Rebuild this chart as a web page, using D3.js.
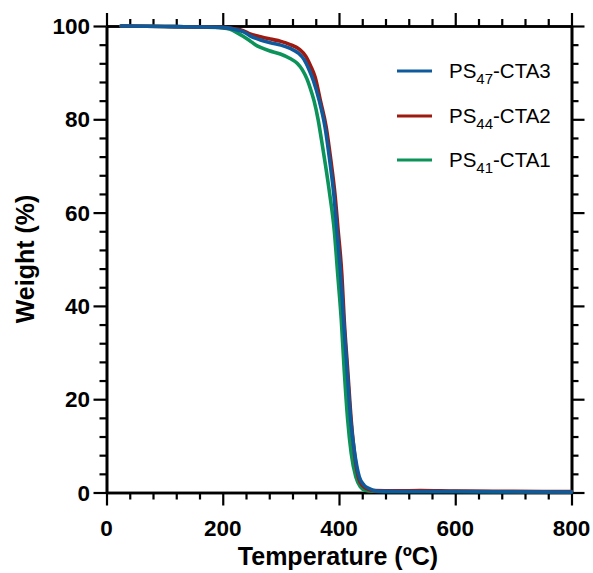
<!DOCTYPE html>
<html>
<head>
<meta charset="utf-8">
<script src="https://cdn.jsdelivr.net/npm/d3@7"></script>
<style>
  html, body { margin: 0; padding: 0; background: #fff; }
  svg { display: block; }
</style>
</head>
<body>
<svg id="chart" width="593" height="573"></svg>
<script>
// TGA curves: temperature (ºC) and remaining weight (%) per sample
const tempCTA3 = [25, 100, 150, 200, 220, 235, 247, 265, 282, 300, 316, 330, 340, 348, 356, 366, 376, 384, 391, 396, 403, 408, 414, 420, 427, 435, 443, 451, 465, 500, 600, 700, 800];
const weightCTA3 = [100, 99.9, 99.8, 99.7, 99.3, 98.8, 97.9, 97.0, 96.4, 95.9, 95.2, 94.2, 92.8, 90.8, 88.3, 84.0, 78.3, 71.2, 64.0, 56.9, 46.5, 36.9, 26.2, 15.8, 8.4, 3.3, 1.6, 0.9, 0.3, 0.2, 0.2, 0.15, 0.1];

const tempCTA2 = [25, 100, 150, 200, 220, 235, 247, 265, 282, 300, 316, 332, 343, 351, 359, 368, 378, 386, 393, 398, 405, 409, 415, 421, 427, 434, 441, 448, 460, 500, 540, 600, 700, 800];
const weightCTA2 = [100, 99.9, 99.8, 99.7, 99.4, 99.0, 98.3, 97.7, 97.2, 96.7, 96.0, 95.0, 93.5, 91.5, 89.0, 84.0, 78.3, 71.2, 64.0, 56.9, 46.5, 36.9, 26.2, 15.5, 8.0, 3.0, 1.4, 0.8, 0.4, 0.35, 0.4, 0.3, 0.25, 0.2];

const tempCTA1 = [25, 100, 150, 200, 213, 225, 235, 247, 256, 265, 280, 299, 315, 328, 337, 345, 351, 357, 364, 370, 377, 384, 392, 398, 404, 409, 415, 421, 429, 437, 445, 458, 500, 600, 700, 800];
const weightCTA1 = [100, 99.9, 99.8, 99.6, 99.3, 98.5, 97.8, 96.8, 96.0, 95.4, 94.7, 94.0, 93.1, 92.0, 90.6, 88.6, 86.5, 84.0, 80.0, 75.5, 70.0, 64.0, 56.0, 46.5, 36.9, 26.2, 15.5, 8.4, 3.3, 1.2, 0.5, 0.3, 0.2, 0.2, 0.15, 0.1];

const seriesNames = ["PS47-CTA3", "PS44-CTA2", "PS41-CTA1"];
const seriesBase = ["PS", "PS", "PS"];
const seriesSub = ["47", "44", "41"];
const seriesTail = ["-CTA3", "-CTA2", "-CTA1"];
const seriesColors = ["#0e5a9d", "#9e1a10", "#0b935a"];

const xTicks = [0, 200, 400, 600, 800];
const yTicks = [0, 20, 40, 60, 80, 100];

const series = [
  { name: seriesNames[0], color: seriesColors[0], pts: tempCTA3.map((t, i) => [t, weightCTA3[i]]) },
  { name: seriesNames[1], color: seriesColors[1], pts: tempCTA2.map((t, i) => [t, weightCTA2[i]]) },
  { name: seriesNames[2], color: seriesColors[2], pts: tempCTA1.map((t, i) => [t, weightCTA1[i]]) }
];

const svg = d3.select("#chart");
const plotL = 106.5, plotR = 571.5, plotT = 26, plotB = 492.5;

const x = d3.scaleLinear().domain([0, 800]).range([plotL, plotR]);
const y = d3.scaleLinear().domain([0, 100]).range([plotB, plotT]);

const xMinor = d3.range(0, 801, 40).filter(v => v % 200 !== 0);
const yMinor = d3.range(0, 101, 4).filter(v => v % 20 !== 0);

const MAJ = 13, MIN = 7;

function styleAxis(g) {
  g.select(".domain").attr("stroke", "#000").attr("stroke-width", 2.6);
  g.selectAll(".tick line").attr("stroke", "#000").attr("stroke-width", 2.2);
  g.selectAll(".tick text").remove();
}

// minor ticks first, majors on top
const axes = [
  { make: () => d3.axisBottom(x), tr: `translate(0,${plotB})`, major: xTicks, minor: xMinor },
  { make: () => d3.axisTop(x), tr: `translate(0,${plotT})`, major: xTicks, minor: xMinor },
  { make: () => d3.axisLeft(y), tr: `translate(${plotL},0)`, major: yTicks, minor: yMinor },
  { make: () => d3.axisRight(y), tr: `translate(${plotR},0)`, major: yTicks, minor: yMinor }
];
axes.forEach(a => {
  svg.append("g").attr("transform", a.tr)
    .call(a.make().tickValues(a.minor).tickSize(MIN).tickSizeOuter(0))
    .call(styleAxis);
  svg.append("g").attr("transform", a.tr)
    .call(a.make().tickValues(a.major).tickSize(MAJ).tickSizeOuter(0))
    .call(styleAxis);
});

// tick labels
const font = "'Liberation Sans', Arial, Helvetica, sans-serif";
svg.append("g").selectAll("text").data(xTicks).join("text")
  .attr("x", d => x(d)).attr("y", 536)
  .attr("text-anchor", "middle")
  .attr("font-family", font).attr("font-weight", "bold").attr("font-size", 22.5)
  .attr("fill", "#000").text(d => d);

svg.append("g").selectAll("text").data(yTicks).join("text")
  .attr("x", 90).attr("y", d => y(d)).attr("dy", "0.36em")
  .attr("text-anchor", "end")
  .attr("font-family", font).attr("font-weight", "bold").attr("font-size", 22.5)
  .attr("fill", "#000").text(d => d);

// axis titles
svg.append("text")
  .attr("x", 338).attr("y", 565)
  .attr("text-anchor", "middle")
  .attr("font-family", font).attr("font-weight", "bold").attr("font-size", 25)
  .attr("fill", "#000").text("Temperature (ºC)");

svg.append("text")
  .attr("transform", `translate(34,259) rotate(-90)`)
  .attr("text-anchor", "middle")
  .attr("font-family", font).attr("font-weight", "bold").attr("font-size", 25)
  .attr("fill", "#000").text("Weight (%)");

// curves: green underneath, blue on top
const line = d3.line()
  .x(d => x(d[0])).y(d => y(d[1]))
  .curve(d3.curveMonotoneX);

svg.append("g").selectAll("path").data([series[2], series[1], series[0]]).join("path")
  .attr("d", d => line(d.pts))
  .attr("fill", "none")
  .attr("stroke", d => d.color)
  .attr("stroke-width", 3.6)
  .attr("stroke-linejoin", "round")
  .attr("stroke-linecap", "round");

// legend
const legendY = [71, 116, 160];
const lg = svg.append("g");
series.forEach((s, i) => {
  lg.append("line")
    .attr("x1", 397).attr("x2", 432)
    .attr("y1", legendY[i]).attr("y2", legendY[i])
    .attr("stroke", s.color).attr("stroke-width", 3.2);
  const t = lg.append("text")
    .attr("x", 449).attr("y", legendY[i] + 7)
    .attr("font-family", font).attr("font-size", 20.5)
    .attr("fill", "#000");
  t.append("tspan").text(seriesBase[i]);
  t.append("tspan").attr("font-size", 15).attr("dy", 6).text(seriesSub[i]);
  t.append("tspan").attr("dy", -6).text(seriesTail[i]);
});
</script>
</body>
</html>
